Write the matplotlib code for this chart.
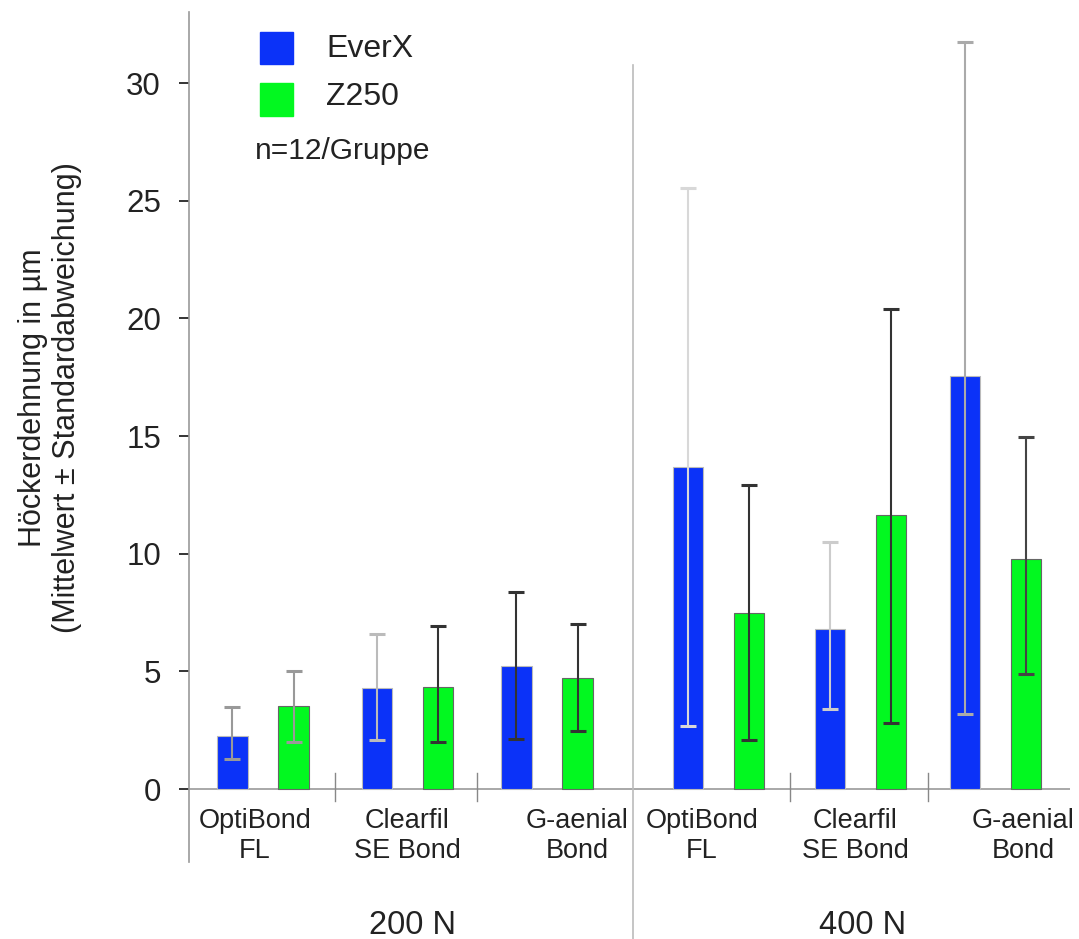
import matplotlib
matplotlib.use("Agg")
import matplotlib.pyplot as plt
from matplotlib.patches import Rectangle

plt.rcParams['font.family'] = ['Liberation Sans', 'DejaVu Sans']

# ---- data ----
groups = ["OptiBond\nFL", "Clearfil\nSE Bond", "G-aenial\nBond",
          "OptiBond\nFL", "Clearfil\nSE Bond", "G-aenial\nBond"]
loads = ["200 N", "400 N"]
series = ["EverX", "Z250"]
everx_mean = [2.25, 4.31, 5.23, 13.70, 6.79, 17.55]
everx_low = [1.26, 2.08, 2.11, 2.69, 3.40, 3.17]
everx_high = [3.49, 6.59, 8.36, 25.55, 10.50, 31.74]
z250_mean = [3.54, 4.35, 4.70, 7.47, 11.64, 9.76]
z250_low = [2.00, 1.98, 2.45, 2.07, 2.80, 4.89]
z250_high = [5.01, 6.94, 7.03, 12.93, 20.38, 14.96]
yticks = [0, 5, 10, 15, 20, 25, 30]
note = "n=12/Gruppe"
ylabel = "Höckerdehnung in µm\n(Mittelwert ± Standardabweichung)"

# ---- layout / style ----
W, H = 1079, 939
fig = plt.figure(figsize=(W / 100, H / 100), dpi=100)
ax = fig.add_axes([189 / W, (H - 862) / H, 881 / W, 850 / H])
ax.set_xlim(-0.521, 5.683)
ax.set_ylim(-3.10, 33.02)

group_pos = [0, 1.02, 2.0, 3.21, 4.21, 5.16]
half = 0.215
bw = 0.213
blue = "#0b32f8"
green = "#02f820"
txt = "#222222"
ecol_everx = ["#999999", "#bbbbbb", "#333333", "#d8d8d8", "#cccccc", "#aaaaaa"]
ecol_z250 = ["#999999", "#333333", "#333333", "#333333", "#333333", "#444444"]
capcol_z250 = ["#888888", "#333333", "#444444", "#333333", "#444444", "#444444"]

xe = [p - half for p in group_pos]
xz = [p + half for p in group_pos]
ax.bar(xe, everx_mean, width=bw, color=blue, edgecolor="#bbbbbb", linewidth=0.8, zorder=2)
ax.bar(xz, z250_mean, width=bw, color=green, edgecolor="#666666", linewidth=0.8, zorder=2)

def ebar(x, m, lo, hi, col, capcol):
    _, caps, bars = ax.errorbar([x], [m], yerr=[[m - lo], [hi - m]], fmt="none",
                                ecolor=col, elinewidth=1.5, capsize=5.8, capthick=2.2,
                                zorder=3)
    for c in caps:
        c.set_color(capcol)

for i in range(6):
    ebar(xe[i], everx_mean[i], everx_low[i], everx_high[i], ecol_everx[i], "#111111")
    ebar(xz[i], z250_mean[i], z250_low[i], z250_high[i], ecol_z250[i], capcol_z250[i])

# axes lines
for s in ["top", "right", "bottom"]:
    ax.spines[s].set_visible(False)
ax.spines["left"].set_color("#999999")
ax.spines["left"].set_linewidth(1.2)
ax.axhline(0, color="#999999", linewidth=1.2, zorder=1)
ax.set_yticks(yticks)
ax.set_yticklabels([str(t) for t in yticks], fontsize=22.5, color=txt)
ax.tick_params(axis="y", length=7.2, width=1.2, color="#111111", pad=13)
ax.set_xticks([])

# divider between load levels
div = (group_pos[2] + group_pos[3]) / 2
ax.plot([div, div], [-6.4, 30.77], color="#bbbbbb", linewidth=1.2, clip_on=False, zorder=1)
# short ticks between groups
for a, b in [(0, 1), (1, 2), (3, 4), (4, 5)]:
    m = (group_pos[a] + group_pos[b]) / 2
    ax.plot([m, m], [0.68, -0.50], color="#888888", linewidth=1.0, clip_on=False)

# group labels
lab_off = [-0.056, -0.006, 0.211, -0.118, -0.041, 0.192]
for i, g in enumerate(groups):
    ax.text(group_pos[i] + lab_off[i], -0.80, g, ha="center", va="top", fontsize=19.5,
            color=txt, linespacing=1.2, clip_on=False)
ax.text(1.05, -5.78, loads[0], ha="center", va="center", fontsize=23.5, color=txt, clip_on=False)
ax.text(4.225, -5.78, loads[1], ha="center", va="center", fontsize=23.5, color=txt, clip_on=False)

# y label
fig.text(50 / W, 1 - 398 / H, ylabel, rotation=90, ha="center", va="center",
         fontsize=22, color=txt, multialignment="center", linespacing=1.15)

# legend
fig.patches.append(Rectangle((260 / W, (H - 64) / H), 33 / W, 32 / H, color=blue,
                             transform=fig.transFigure, figure=fig))
fig.patches.append(Rectangle((260 / W, (H - 116) / H), 33 / W, 33 / H, color=green,
                             transform=fig.transFigure, figure=fig))
fig.text(326 / W, 1 - 49 / H, series[0], ha="left", va="center", fontsize=23, color=txt)
fig.text(326 / W, 1 - 97 / H, series[1], ha="left", va="center", fontsize=23, color=txt)
fig.text(255 / W, 1 - 151 / H, note, ha="left", va="center", fontsize=21.5, color=txt)

fig.savefig("out.png", dpi=100, facecolor="white")
